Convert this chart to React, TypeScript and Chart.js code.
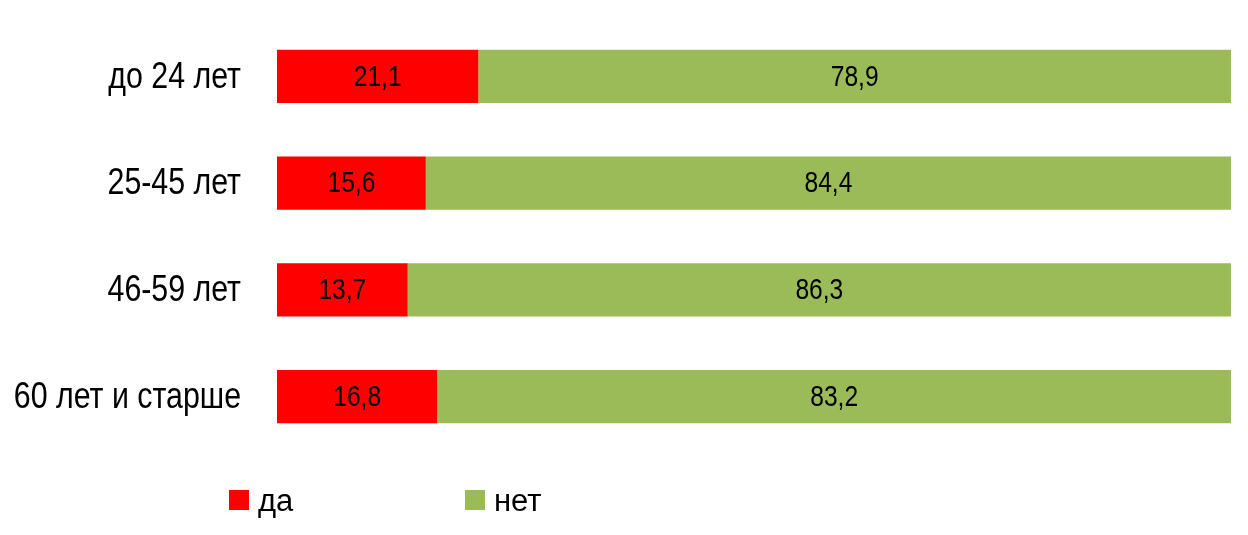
import React, { useEffect, useRef } from "react";
import { Chart, registerables } from "chart.js";

Chart.register(...registerables);

const categories = ["до 24 лет", "25-45 лет", "46-59 лет", "60 лет и старше"];
const seriesNames = ["да", "нет"];
const yesValues = [21.1, 15.6, 13.7, 16.8];
const noValues = [78.9, 84.4, 86.3, 83.2];
const seriesColors = ["#FF0000", "#9BBB59"];

const FONT = "'Liberation Sans', Arial, sans-serif";
const NARROW = 0.82; // horizontal squeeze to imitate a narrow face

const fmt = (v: number) => v.toFixed(1).replace(".", ",");

function drawText(ctx: any, text: string, x: number, y: number, align: string, sx: number) {
  ctx.save();
  ctx.translate(x, y);
  ctx.scale(sx, 1);
  ctx.textAlign = align;
  ctx.fillText(text, 0, 0);
  ctx.restore();
}

const valueLabelPlugin = {
  id: "valueLabels",
  afterDatasetsDraw(chart: any) {
    const ctx = chart.ctx;
    ctx.save();
    ctx.font = `30px ${FONT}`;
    ctx.fillStyle = "#000000";
    ctx.textBaseline = "middle";
    chart.data.datasets.forEach((ds: any, i: number) => {
      const meta = chart.getDatasetMeta(i);
      meta.data.forEach((el: any, j: number) => {
        const x = (el.x + el.base) / 2;
        drawText(ctx, fmt(ds.data[j]), x, el.y + 1, "center", NARROW);
      });
    });
    ctx.restore();
  },
};

const categoryLabelPlugin = {
  id: "categoryLabels",
  afterDraw(chart: any) {
    const ctx = chart.ctx;
    const scale = chart.scales.y;
    ctx.save();
    ctx.font = `37px ${FONT}`;
    ctx.fillStyle = "#000000";
    ctx.textBaseline = "middle";
    scale.ticks.forEach((_t: any, i: number) => {
      const y = scale.getPixelForTick(i);
      drawText(ctx, String(chart.data.labels[i]), chart.chartArea.left - 36, y + 1, "right", NARROW);
    });
    ctx.restore();
  },
};

const bottomLegendPlugin = {
  id: "bottomLegend",
  afterDraw(chart: any) {
    const ctx = chart.ctx;
    const xs = [221, 457];
    const y = 492;
    const box = 20;
    ctx.save();
    ctx.font = `31px ${FONT}`;
    ctx.textBaseline = "middle";
    chart.data.datasets.forEach((ds: any, i: number) => {
      ctx.fillStyle = ds.backgroundColor;
      ctx.fillRect(xs[i], y - box / 2, box, box);
      ctx.fillStyle = "#000000";
      drawText(ctx, ds.label, xs[i] + 29, y + 2, "left", 1);
    });
    ctx.restore();
  },
};

export default function App() {
  const ref = useRef<HTMLCanvasElement>(null);

  useEffect(() => {
    if (!ref.current) return;
    const chart = new Chart(ref.current, {
      type: "bar",
      data: {
        labels: categories,
        datasets: [
          {
            label: seriesNames[0],
            data: yesValues,
            backgroundColor: seriesColors[0],
            categoryPercentage: 0.5,
            barPercentage: 1,
          },
          {
            label: seriesNames[1],
            data: noValues,
            backgroundColor: seriesColors[1],
            categoryPercentage: 0.5,
            barPercentage: 1,
          },
        ],
      },
      options: {
        indexAxis: "y",
        animation: false,
        responsive: true,
        maintainAspectRatio: false,
        layout: { padding: { top: 15, bottom: 77, left: 0, right: 9 } },
        plugins: {
          legend: { display: false },
          tooltip: { enabled: false },
        },
        scales: {
          x: {
            stacked: true,
            min: 0,
            max: 100,
            display: false,
          },
          y: {
            stacked: true,
            grid: { display: false, drawTicks: false },
            border: { display: false },
            ticks: { display: false },
            afterFit(scale: any) {
              scale.width = 269;
              scale.paddingTop = 0;
              scale.paddingBottom = 0;
            },
          },
        },
      },
      plugins: [valueLabelPlugin, categoryLabelPlugin, bottomLegendPlugin],
    });
    return () => chart.destroy();
  }, []);

  return (
    <div style={{ width: 1232, height: 519, position: "relative" }}>
      <canvas ref={ref} />
    </div>
  );
}
